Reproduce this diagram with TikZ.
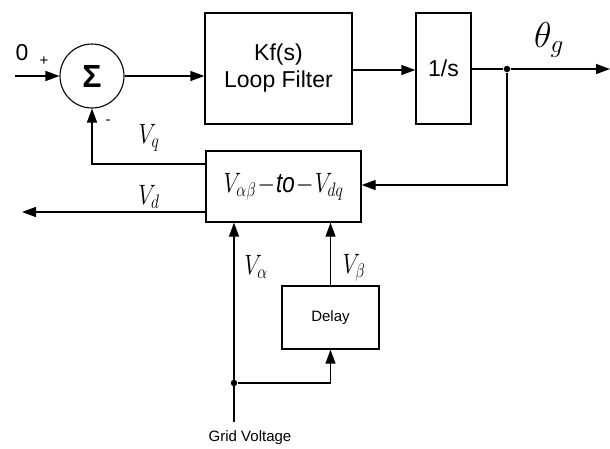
\RequirePackage{fix-cm}
\documentclass[tikz,border=0pt]{standalone}
\usepackage{fontspec}
\setmainfont{Liberation Sans}
\usetikzlibrary{arrows.meta,calc}
\newcommand{\narrowtxt}[1]{\scalebox{0.8}[1]{#1}}
\begin{document}
\begin{tikzpicture}[x=1pt,y=-1pt,
  line width=1.4pt,
  >={Triangle[length=14pt,width=10pt]},
  blk/.style={draw,rectangle,inner sep=0pt,align=center},
  lbl/.style={inner sep=0pt},
  vlab/.style={inner sep=0pt,font=\fontsize{28}{28}\selectfont},
  junc/.style={circle,fill,inner sep=0pt,minimum size=6.5pt}]
\useasboundingbox (0,0) rectangle (610,448);
% blocks
\node[draw,line width=1.1pt,circle,minimum size=64pt,inner sep=0pt,font=\fontsize{32}{32}\selectfont\bfseries] (sum) at (92,76) {Σ};
\node[blk,minimum width=147pt,minimum height=111pt,font=\fontsize{23}{27}\selectfont] (kf) at (278.5,68.5) {Kf(s)\\Loop Filter};
\node[blk,minimum width=55pt,minimum height=111pt,font=\fontsize{23}{27}\selectfont] (integ) at (443.5,68.5) {1/s};
\node[blk,minimum width=155pt,minimum height=71pt,font=\fontsize{28}{28}\selectfont] (conv) at (283.5,186.5) {\narrowtxt{$V_{\alpha\beta}\!-\!\mathit{to}\!-\!V_{dq}$}};
\node[blk,minimum width=97pt,minimum height=63pt,font=\fontsize{15}{17}\selectfont] (delay) at (330.5,317.5) {Delay};
% junctions and ends
\node[junc] (j1) at (507,69) {};
\node[junc] (j2) at (234,383) {};
\coordinate (in) at (15,76);
\coordinate (out) at (610,69);
\coordinate (vdend) at (22,212);
\coordinate (grid) at (234,422);
% connectors
\draw[->] (in) -- (sum.west);
\draw[->] (sum.east) -- (sum.east -| kf.west);
\draw[->] (kf.east |- 0,70) -- (integ.west |- 0,70);
\draw (integ.east |- j1) -- (j1);
\draw[->] (j1) -- (out);
\draw[->] (j1) |- (conv.east |- 0,185);
\draw[->] (conv.west |- 0,164) -| (sum.south);
\draw[->] (conv.west |- 0,212) -- (vdend);
\draw[->] (grid) -- (grid |- conv.south);
\draw[->] (j2) -| (delay.south);
\draw[->] (delay.north) -- (delay.north |- conv.south);
% labels
\node[lbl,font=\fontsize{23}{23}\selectfont] (zero) at (22,53) {0};
\node[lbl,font=\fontsize{15}{15}\selectfont] (plus) at (44,61) {+};
\node[lbl,font=\fontsize{15}{15}\selectfont] (minus) at (108,122) {-};
\node[vlab] (vq) at (149,138) {\narrowtxt{$V_q$}};
\node[vlab] (vd) at (149,197) {\narrowtxt{$V_d$}};
\node[vlab] (va) at (256,267) {\narrowtxt{$V_\alpha$}};
\node[vlab] (vb) at (354,268) {\narrowtxt{$V_\beta$}};
\node[lbl,font=\fontsize{36}{36}\selectfont] (theta) at (549,40) {$\theta_g$};
\node[lbl,font=\fontsize{15}{17}\selectfont] (gv) at (250,438) {Grid Voltage};
\end{tikzpicture}
\end{document}
